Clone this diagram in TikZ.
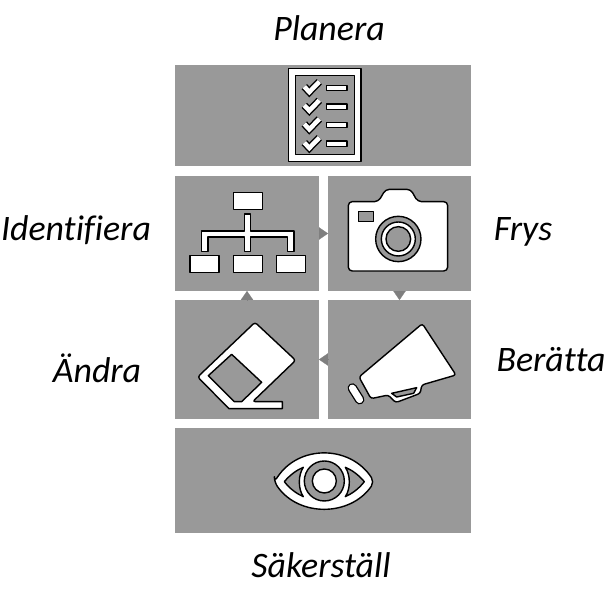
\documentclass[tikz,border=0pt]{standalone}
\usepackage{fontspec}
\setmainfont[Ligatures=NoCommon]{Carlito}
\usepackage{tikz}
\usetikzlibrary{arrows.meta}
\definecolor{boxgray}{HTML}{999999}
\definecolor{tipgray}{HTML}{7F7F7F}
\tikzset{
    stagebox/.style={rectangle,fill=boxgray,inner sep=0pt,outer sep=0pt},
    stagelabel/.style={font=\fontsize{20.4}{24}\selectfont\itshape,inner sep=0pt},
    stagearrow/.style={-{Triangle[length=5.1pt,width=7pt]},draw=tipgray,line width=0.1pt},
    iconpart/.style={draw=black,fill=white,line width=0.8pt,line join=round},
    iconhole/.style={draw=black,fill=boxgray,line width=0.8pt,line join=round},
    checkmark/.style={draw=black,double=white,double distance=2.6pt,line width=0.8pt,line join=miter}
}
\begin{document}
\begin{tikzpicture}[x=0.02cm,y=-0.02cm]
\useasboundingbox (0,0) rectangle (609,607);
\begin{scope}[every node/.style={stagebox}]
    \node[minimum width=5.92cm,minimum height=2.02cm] (plan) at (323,115.5) {};
    \node[minimum width=2.88cm,minimum height=2.30cm] (ident) at (247,233.5) {};
    \node[minimum width=2.86cm,minimum height=2.30cm] (freeze) at (399.5,233.5) {};
    \node[minimum width=2.88cm,minimum height=2.38cm] (change) at (247,359.5) {};
    \node[minimum width=2.86cm,minimum height=2.38cm] (tell) at (399.5,359.5) {};
    \node[minimum width=5.92cm,minimum height=2.10cm] (ensure) at (323,480.5) {};
\end{scope}
\begin{scope}[every node/.style={stagelabel}]
    \node (planlabel) at (329,28) {Planera};
    \node (identlabel) at (76,230) {Identifiera};
    \node (freezelabel) at (523,232) {Frys};
    \node (changelabel) at (97,368) {Ändra};
    \node (telllabel) at (551,360) {Berätta};
    \node (ensurelabel) at (321,565) {Säkerställ};
\end{scope}
\draw [stagearrow] (ident) -- (freeze);
\draw [stagearrow] (freeze) -- (tell);
\draw [stagearrow] (tell) -- (change);
\draw [stagearrow] (change) -- (ident);
% upper icons
\begin{scope}[shift={(175,60)},x=0.00667cm,y=-0.00667cm]
    \draw [iconpart] (340,25) rectangle (558,304);
    \draw [iconhole] (361,46) rectangle (538,284);
    \draw [checkmark] (388,80) -- (403,96) -- (433,65);
    \draw [checkmark] (388,136) -- (403,152) -- (433,121);
    \draw [checkmark] (388,192) -- (403,208) -- (433,177);
    \draw [checkmark] (388,248) -- (403,264) -- (433,233);
    \draw [iconpart] (455,76) rectangle (516,92);
    \draw [iconpart] (455,132) rectangle (516,148);
    \draw [iconpart] (455,187) rectangle (516,203);
    \draw [iconpart] (455,243) rectangle (516,259);
    \draw [iconpart] (175,398) rectangle (262,449);
    \draw [iconpart] (45,587) rectangle (132,637);
    \draw [iconpart] (175,587) rectangle (262,637);
    \draw [iconpart] (305,587) rectangle (392,637);
    \draw [iconpart] (209,462) -- (227,462) -- (227,513) -- (357,513) -- (357,575) -- (338,575) -- (338,531) -- (227,531) -- (227,575) -- (209,575) -- (209,531) -- (99,531) -- (99,575) -- (80,575) -- (80,513) -- (209,513) -- cycle;
    \draw [iconpart,rounded corners=2.2pt] (520,425) -- (610,425) -- (632,388) -- (707,388) -- (728,425) -- (818,425) -- (818,633) -- (520,633) -- cycle;
    \draw [iconhole] (550,455) rectangle (596,485);
    \draw [iconhole] (670,537) circle (68);
    \draw [iconpart] (670,537) circle (51);
    \draw [iconhole] (670,537) circle (37);
\end{scope}
% lower icons
\begin{scope}[shift={(175,285)},x=0.00667cm,y=-0.00667cm]
    \draw [iconpart] (233,350) -- (322,350) -- (322,371) -- (162,371) [rounded corners=1.5pt] -- (68,276) -- (240,112) -- (362,226) -- cycle;
    \draw [iconhole] (170,208) -- (260,292) -- (200,350) -- (178,350) -- (100,272) -- cycle;
    \draw [iconpart,rounded corners=1.5pt] (552,276) -- (742,116) -- (843,270) -- (740,300) -- (736,325) -- (662,353) -- (640,330) -- (588,341) -- cycle;
    \draw [iconhole] (650,325) -- (725,308) -- (716,325) -- (665,336) -- cycle;
    \draw [line width=5.4pt,line cap=round] (532,309) -- (554,344);
    \draw [line width=3.9pt,line cap=round,white] (532,309) -- (554,344);
    \draw [iconpart,rounded corners=3pt] (298,591) .. controls (370,479) and (525,479) .. (598,591) .. controls (525,696) and (370,696) .. cycle;
    \draw [iconhole] (328,590) .. controls (345,570) and (365,555) .. (385,547) .. controls (369,570) and (369,612) .. (385,635) .. controls (365,626) and (345,612) .. cycle;
    \draw [iconhole] (568,590) .. controls (551,570) and (531,555) .. (511,547) .. controls (527,570) and (527,612) .. (511,635) .. controls (531,626) and (551,612) .. cycle;
    \draw [iconhole] (448,588) circle (60);
    \draw [iconpart] (448,588) circle (36);
\end{scope}
\end{tikzpicture}
\end{document}
